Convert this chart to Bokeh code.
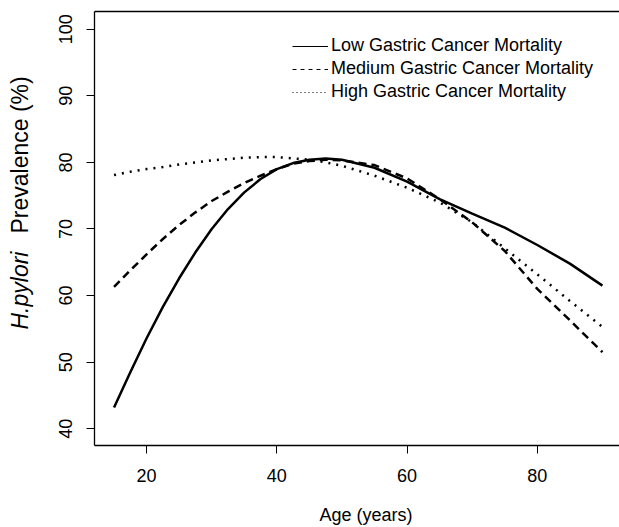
import math
from bokeh.plotting import figure
from bokeh.models import Range1d, Label, Legend, LegendItem, LinearAxis, FixedTicker
from bokeh.embed import file_html
from bokeh.resources import INLINE

# ---- data ----
age = [15, 17.5, 20, 22.5, 25, 27.5, 30, 32.5, 35, 37.5, 40, 42.5, 45, 47.5, 50,
       55, 60, 65, 70, 75, 80, 85, 90]
low = [43.2, 48.5, 53.6, 58.3, 62.6, 66.5, 70.0, 73.0, 75.5, 77.5, 79.0, 79.9, 80.4, 80.6, 80.4,
       79.2, 77.1, 74.5, 72.3, 70.2, 67.6, 64.8, 61.5]
medium = [61.3, 63.8, 66.2, 68.5, 70.6, 72.5, 74.2, 75.6, 76.9, 78.0, 79.0, 79.8, 80.2, 80.4, 80.3,
          79.6, 77.6, 74.5, 71.0, 66.7, 61.0, 56.3, 51.5]
high = [78.1, 78.6, 79.0, 79.3, 79.7, 80.0, 80.3, 80.5, 80.7, 80.8, 80.8, 80.6, 80.4, 80.0, 79.5,
        78.0, 76.2, 74.0, 71.0, 67.1, 63.2, 59.2, 55.3]

series_names = ["Low Gastric Cancer Mortality",
                "Medium Gastric Cancer Mortality",
                "High Gastric Cancer Mortality"]
x_ticks = [20, 40, 60, 80]
y_ticks = [40, 50, 60, 70, 80, 90, 100]
x_title = "Age (years)"
y_title_italic = "H.pylori"
y_title_rest = "Prevalence (%)"

FONT = "Liberation Sans"

p = figure(width=619, height=527, output_backend="svg", toolbar_location=None,
           x_range=Range1d(12, 92.62), y_range=Range1d(37.49, 102.66),
           min_border_left=94, min_border_top=11, min_border_right=0,
           min_border_bottom=82, x_axis_location=None, y_axis_location=None)
p.grid.visible = False
p.outline_line_color = None
p.background_fill_color = "white"
p.border_fill_color = "white"

def style_axis(ax):
    ax.axis_line_color = "black"
    ax.axis_line_width = 1.3
    ax.major_tick_line_color = "black"
    ax.major_tick_line_width = 1.0
    ax.major_tick_out = 8
    ax.major_tick_in = 0
    ax.minor_tick_line_color = None
    ax.major_label_text_font = FONT
    ax.major_label_text_font_size = "18px"
    ax.major_label_text_color = "black"

xaxis = LinearAxis(ticker=FixedTicker(ticks=x_ticks))
style_axis(xaxis)
xaxis.major_label_standoff = 15
p.add_layout(xaxis, "below")

yaxis = LinearAxis(ticker=FixedTicker(ticks=y_ticks))
style_axis(yaxis)
yaxis.major_label_orientation = "vertical"
yaxis.major_label_standoff = 14
p.add_layout(yaxis, "left")

top = LinearAxis(ticker=FixedTicker(ticks=[]))
top.axis_line_color = "black"
top.axis_line_width = 1.3
top.major_tick_line_color = None
top.minor_tick_line_color = None
top.major_label_text_color = None
p.add_layout(top, "above")

# ---- curves ----
r_low = p.line(age, low, line_color="black", line_width=2.5)
r_med = p.line(age, medium, line_color="black", line_width=2.5, line_dash="8 5")
r_high = p.line(age, high, line_color="black", line_width=2.5, line_dash="2 6")

# ---- legend (thin line samples, as in the reference) ----
l1 = p.line(age, low, line_color="black", line_width=1.2, visible=False)
l2 = p.line(age, medium, line_color="black", line_width=1, line_dash="4 4", visible=False)
l3 = p.line(age, high, line_color="black", line_width=1, line_dash="1 3", visible=False)
legend = Legend(items=[LegendItem(label=series_names[0], renderers=[l1]),
                       LegendItem(label=series_names[1], renderers=[l2]),
                       LegendItem(label=series_names[2], renderers=[l3])],
                location=(198, 343), padding=0, margin=0, spacing=2,
                glyph_width=36, glyph_height=20, label_height=20,
                label_standoff=3, border_line_color=None,
                background_fill_alpha=0, inactive_fill_alpha=0,
                label_text_font=FONT, label_text_font_size="18px",
                label_text_color="black")
p.add_layout(legend, "center")

# ---- axis titles ----
xpix = lambda px: 12 + (px - 94) * (92.62 - 12) / 525.0
ypix = lambda py: 102.66 - (py - 11) * (102.66 - 37.49) / 434.0

p.add_layout(Label(x=xpix(365.5), y=ypix(514), text=x_title,
                   text_font=FONT, text_font_size="18px", text_align="center",
                   text_baseline="alphabetic", text_color="black"), "below")

p.add_layout(Label(x=xpix(19), y=ypix(329), text=y_title_italic, angle=math.pi / 2,
                   text_font=FONT, text_font_size="23px", text_font_style="italic",
                   text_align="left", text_baseline="alphabetic", text_color="black"), "left")
p.add_layout(Label(x=xpix(19), y=ypix(233), text=y_title_rest, angle=math.pi / 2,
                   text_font=FONT, text_font_size="23px",
                   text_align="left", text_baseline="alphabetic", text_color="black"), "left")

open("out.html", "w").write(file_html(p, INLINE))
